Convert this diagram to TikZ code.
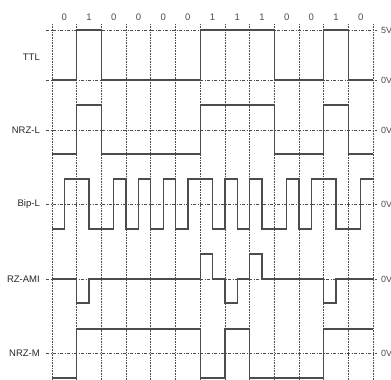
\documentclass[tikz,border=0pt]{standalone}
\usepackage{fontspec}
\setmainfont{Liberation Sans}
\begin{document}
\begin{tikzpicture}[x=1pt,y=-1pt,
  gridline/.style={draw=black!70, line width=0.8pt, dash pattern=on 0.8pt off 0.8pt},
  refline/.style={draw=black!70, line width=0.9pt, dash pattern=on 3pt off 1.5pt on 1pt off 1.5pt},
  signal/.style={draw=black!70, line width=1.3pt, line join=miter},
  rowlabel/.style={anchor=east, inner sep=0pt, font=\fontsize{9.5}{10}\selectfont, text=black!85},
  bitlabel/.style={anchor=center, inner sep=0pt, font=\fontsize{9.5}{10}\selectfont, text=black!70},
  voltlabel/.style={anchor=west, inner sep=0pt, font=\fontsize{9}{10}\selectfont, text=black!70}]
\useasboundingbox (0,0) rectangle (391,380);
% vertical grid
\foreach \k in {0,...,13} {
  \draw[gridline] ({52+24.7*\k},24) -- ({52+24.7*\k},380);
}
% bit labels
\foreach \b [count=\i from 0] in {0,1,0,0,0,0,1,1,1,0,0,1,0} {
  \node[bitlabel] (bit\i) at ({64.35+24.7*\i},17) {\b};
}
% reference lines
\foreach \y in {30,80,130,204,279,353} {
  \draw[refline] (46,\y) -- (377,\y);
}
% row labels
\node[rowlabel] (ttl) at (40,57) {TTL};
\node[rowlabel] (nrzl) at (40,130) {NRZ-L};
\node[rowlabel] (bipl) at (40,204) {Bip-L};
\node[rowlabel] (rzami) at (40,279) {RZ-AMI};
\node[rowlabel] (nrzm) at (40,353) {NRZ-M};
% voltage labels
\node[voltlabel] (v5) at (381,30) {5V};
\node[voltlabel] (v0a) at (381,80) {0V};
\node[voltlabel] (v0b) at (381,130) {0V};
\node[voltlabel] (v0c) at (381,204) {0V};
\node[voltlabel] (v0d) at (381,279) {0V};
\node[voltlabel] (v0e) at (381,353) {0V};
% TTL
\draw[signal] (52,80) -- (76.7,80) -- (76.7,30) -- (101.4,30) -- (101.4,80) -- (200.2,80) -- (200.2,30) -- (274.3,30) -- (274.3,80) -- (323.7,80) -- (323.7,30) -- (348.4,30) -- (348.4,80) -- (373.1,80);
% NRZ-L
\draw[signal] (52,154) -- (76.7,154) -- (76.7,105) -- (101.4,105) -- (101.4,154) -- (200.2,154) -- (200.2,105) -- (274.3,105) -- (274.3,154) -- (323.7,154) -- (323.7,105) -- (348.4,105) -- (348.4,154) -- (373.1,154);
% Bip-L
\draw[signal] (52,229) -- (64.35,229) -- (64.35,179) -- (89.05,179) -- (89.05,229) -- (113.75,229) -- (113.75,179) -- (126.1,179) -- (126.1,229) -- (138.45,229) -- (138.45,179) -- (150.8,179) -- (150.8,229) -- (163.15,229) -- (163.15,179) -- (175.5,179) -- (175.5,229) -- (187.85,229) -- (187.85,179) -- (212.55,179) -- (212.55,229) -- (224.9,229) -- (224.9,179) -- (237.25,179) -- (237.25,229) -- (249.6,229) -- (249.6,179) -- (261.95,179) -- (261.95,229) -- (286.65,229) -- (286.65,179) -- (299,179) -- (299,229) -- (311.35,229) -- (311.35,179) -- (336.05,179) -- (336.05,229) -- (360.75,229) -- (360.75,179) -- (373.1,179);
% RZ-AMI
\draw[signal] (52,279) -- (76.7,279) -- (76.7,303) -- (89.05,303) -- (89.05,279) -- (200.2,279) -- (200.2,254) -- (212.55,254) -- (212.55,279) -- (224.9,279) -- (224.9,303) -- (237.25,303) -- (237.25,279) -- (249.6,279) -- (249.6,254) -- (261.95,254) -- (261.95,279) -- (323.7,279) -- (323.7,303) -- (336.05,303) -- (336.05,279) -- (373.1,279);
% NRZ-M
\draw[signal] (52,378) -- (76.7,378) -- (76.7,329) -- (200.2,329) -- (200.2,378) -- (224.9,378) -- (224.9,329) -- (249.6,329) -- (249.6,378) -- (323.7,378) -- (323.7,329) -- (373.1,329);
\end{tikzpicture}
\end{document}
